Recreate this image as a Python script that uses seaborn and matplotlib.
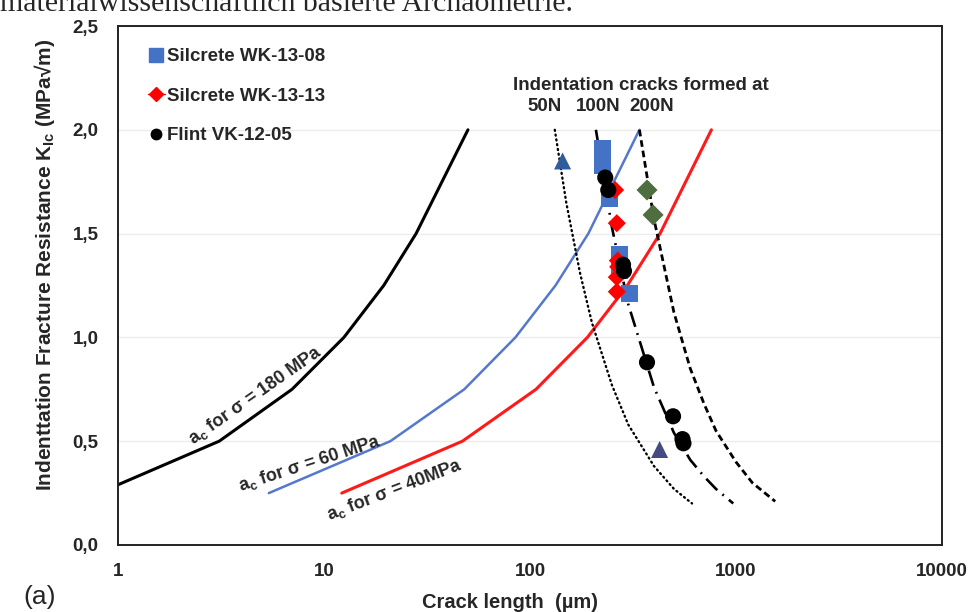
import matplotlib
matplotlib.use("Agg")
import matplotlib.pyplot as plt
from matplotlib.lines import Line2D
import seaborn as sns
import pandas as pd

# Critical crack length curves a_c for three strengths (K in MPa*sqrt(m), a in µm)
k_180 = [0.29, 0.5, 0.75, 1.0, 1.25, 1.5, 2.0]
a_180 = [1.0, 3.1, 7.0, 12.5, 19.5, 28.0, 50.0]
k_60 = [0.25, 0.5, 0.75, 1.0, 1.25, 1.5, 2.0]
a_60 = [5.4, 21.0, 48.0, 85.0, 133.0, 192.0, 340.0]
k_40 = [0.25, 0.5, 0.75, 1.0, 1.25, 1.5, 2.0]
a_40 = [12.2, 47.0, 107.0, 190.0, 297.0, 428.0, 760.0]

# Indentation crack curves for three loads
c_50n = [132, 150, 175, 200, 250, 300, 400, 500, 612]
k_50n = [2.0, 1.65, 1.31, 1.07, 0.77, 0.58, 0.38, 0.27, 0.20]
c_100n = [209, 250, 300, 400, 500, 600, 700, 800, 970]
k_100n = [2.0, 1.53, 1.16, 0.76, 0.54, 0.41, 0.33, 0.27, 0.20]
c_200n = [340, 400, 500, 600, 700, 800, 1000, 1200, 1550]
k_200n = [2.0, 1.57, 1.12, 0.85, 0.68, 0.55, 0.40, 0.30, 0.21]

# Measured samples
sil08_c = [226, 226, 244, 272, 272, 303]
sil08_k = [1.91, 1.83, 1.67, 1.40, 1.32, 1.21]
sil13_c = [259, 264, 267, 268, 264, 264]
sil13_k = [1.71, 1.55, 1.37, 1.34, 1.29, 1.22]
flint_c = [232, 240, 283, 286, 370, 495, 550, 556]
flint_k = [1.77, 1.71, 1.35, 1.32, 0.88, 0.62, 0.51, 0.49]
tri_c = [144, 426]
tri_k = [1.85, 0.46]
green_c = [370, 396]
green_k = [1.71, 1.59]

x_ticks = [1, 10, 100, 1000, 10000]
x_tick_labels = ["1", "10", "100", "1000", "10000"]
y_ticks = [0.0, 0.5, 1.0, 1.5, 2.0, 2.5]
y_tick_labels = ["0,0", "0,5", "1,0", "1,5", "2,0", "2,5"]
legend_labels = ["Silcrete WK-13-08", "Silcrete WK-13-13", "Flint VK-12-05"]

sns.set_theme(style="white")
plt.rcParams["font.family"] = ["Liberation Sans", "DejaVu Sans"]
plt.rcParams["mathtext.fontset"] = "custom"
plt.rcParams["mathtext.rm"] = "Liberation Sans:bold"
plt.rcParams["mathtext.it"] = "Liberation Sans:bold"
plt.rcParams["mathtext.bf"] = "Liberation Sans:bold"
plt.rcParams["mathtext.default"] = "rm"

fig = plt.figure(figsize=(9.7, 6.12), dpi=100)
ax = fig.add_axes([0.1216, 0.1095, 0.8495, 0.848])

def curve(x, y, **kw):
    df = pd.DataFrame({"x": x, "y": y})
    sns.lineplot(data=df, x="x", y="y", sort=False, estimator=None, ax=ax, **kw)

curve(a_180, k_180, color="black", linewidth=2.2)
curve(a_60, k_60, color="#5577CC", linewidth=1.8)
curve(a_40, k_40, color="#FF1A1A", linewidth=2.2)
curve(c_50n, k_50n, color="black", linewidth=1.7, linestyle=(0, (0.45, 1.6)),
      dash_capstyle="round")
curve(c_100n, k_100n, color="black", linewidth=1.9, linestyle=(0, (6, 2.5, 0.7, 2.5)))
curve(c_200n, k_200n, color="black", linewidth=2.0, linestyle=(0, (2.4, 1.4)))

sns.scatterplot(x=sil08_c, y=sil08_k, marker="s", s=150, color="#4472C4",
                edgecolor="none", ax=ax, zorder=4)
sns.scatterplot(x=sil13_c, y=sil13_k, marker="D", s=85, color="#FF0000",
                edgecolor="none", ax=ax, zorder=5)
sns.scatterplot(x=flint_c, y=flint_k, marker="o", s=135, color="black",
                edgecolor="none", ax=ax, zorder=6)
sns.scatterplot(x=tri_c, y=tri_k, marker="^", s=150, hue=["a", "b"],
                palette=["#2F5C9A", "#454B7E"], edgecolor="none", ax=ax,
                zorder=4, legend=False)
sns.scatterplot(x=green_c, y=green_k, marker="D", s=115, color="#4E6E40",
                edgecolor="none", ax=ax, zorder=4)

ax.set_xscale("log")
ax.set_xlim(1, 10000)
ax.set_ylim(0, 2.5)
ax.set_xticks(x_ticks)
ax.set_xticklabels(x_tick_labels)
ax.minorticks_off()
ax.set_yticks(y_ticks)
ax.set_yticklabels(y_tick_labels)
ax.tick_params(length=0, labelsize=13.5)
ax.tick_params(axis="x", pad=13)
ax.tick_params(axis="y", pad=14)
for lab in ax.get_xticklabels() + ax.get_yticklabels():
    lab.set_fontweight("bold")
ax.grid(axis="y", color="#ececec", linewidth=1.0)
ax.set_axisbelow(True)
for sp in ax.spines.values():
    sp.set_visible(True)
    sp.set_color("#222222")
    sp.set_linewidth(1.4)

ax.set_xlabel("Crack length  (µm)", fontsize=14.5, fontweight="bold")
ax.set_ylabel(r"Indenttation Fracture Resistance K$_{Ic}$ (MPa√m)",
              fontsize=15, fontweight="bold")
ax.xaxis.set_label_coords(0.476, -0.093)
ax.yaxis.set_label_coords(-0.074, 0.54)

handles = [
    Line2D([], [], marker="s", color="#4472C4", linestyle="none", markersize=10.5),
    Line2D([], [], marker="D", color="#FF0000", linestyle="-", linewidth=1,
           markersize=7),
    Line2D([], [], marker="o", color="black", linestyle="none", markersize=7.5),
]
leg = ax.legend(handles, legend_labels, loc="upper left", frameon=False,
                bbox_to_anchor=(0.016, 0.99), handlelength=0.9,
                handletextpad=0.1, labelspacing=1.2,
                prop={"weight": "bold", "size": 13.5})

ax.text(0.479, 0.886, "Indentation cracks formed at", transform=ax.transAxes,
        fontsize=13.5, fontweight="bold", ha="left", va="center")
for txt, xp in [("50N", 545), ("100N", 598), ("200N", 652)]:
    ax.text((xp - 118) / 824, (545 - 106) / 519, txt, transform=ax.transAxes,
            fontsize=13.5, fontweight="bold", ha="center", va="center")

curve_labels = [
    (r"a$_{c}$ for σ = 180 MPa", 4.63, 0.72, 35),
    (r"a$_{c}$ for σ = 60 MPa", 8.55, 0.39, 18),
    (r"a$_{c}$ for σ = 40MPa", 21.9, 0.265, 21),
]
for txt, xv, yv, rot in curve_labels:
    ax.text(xv, yv, txt, fontsize=13, fontweight="bold", rotation=rot,
            rotation_mode="anchor", ha="center", va="center")

fig.text(40 / 970, 1 - 597 / 612, "(a)", fontsize=19, ha="center", va="center")
fig.text(0.0, 1 - 11 / 612, "materialwissenschaftlich basierte Archäometrie.",
         fontsize=21.5, family="Liberation Serif", ha="left", va="baseline")

fig.savefig("out.png", dpi=100, facecolor="white")
